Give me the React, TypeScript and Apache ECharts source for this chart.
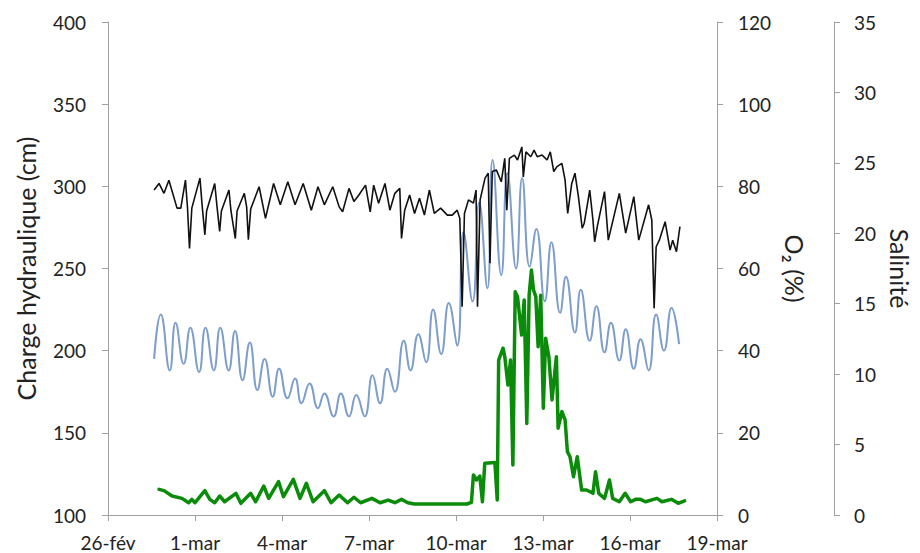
import React, { useEffect, useRef } from 'react';
import * as echarts from 'echarts';

// x values are days since 26-fév
const dateLabels = ['26-fév', '1-mar', '4-mar', '7-mar', '10-mar', '13-mar', '16-mar', '19-mar'];

// Charge hydraulique (cm) – blue, left axis
const chargeDays = [1.59, 1.82, 2.13, 2.33, 2.61, 2.84, 3.14, 3.36, 3.65, 3.87, 4.16, 4.38, 4.64, 4.89, 5.15, 5.40, 5.68, 5.90, 6.19, 6.45, 6.67, 6.95, 7.24, 7.46, 7.78, 8.03, 8.31, 8.56, 8.85, 9.12, 9.38, 9.63, 9.89, 10.20, 10.43, 10.70, 10.97, 11.21, 11.49, 11.75, 12.04, 12.26, 12.57, 12.80, 13.08, 13.26, 13.56, 13.77, 14.07, 14.28, 14.54, 14.77, 15.06, 15.29, 15.59, 15.79, 16.10, 16.30, 16.61, 16.84, 17.12, 17.34, 17.63, 17.85, 18.13, 18.36, 18.64, 18.90, 19.17, 19.43, 19.69];
const chargeValues = [195, 222, 188, 217, 192, 214, 187, 214, 188, 214, 188, 212, 182, 205, 176, 195, 172, 189, 171, 183, 168, 180, 165, 174, 160, 174, 160, 173, 160, 185, 168, 189, 175, 206, 188, 210, 193, 225, 198, 229, 203, 272, 230, 290, 238, 316, 246, 308, 250, 305, 251, 274, 230, 266, 223, 245, 211, 237, 206, 227, 199, 217, 194, 213, 189, 207, 188, 222, 200, 226, 204];

// O2 (%) – black, first right axis
const o2Days = [1.59, 1.76, 1.93, 2.10, 2.38, 2.51, 2.67, 2.74, 2.81, 2.89, 3.17, 3.25, 3.34, 3.40, 3.68, 3.76, 3.85, 3.91, 4.17, 4.24, 4.39, 4.45, 4.70, 4.78, 4.84, 4.92, 5.21, 5.43, 5.71, 5.94, 6.20, 6.45, 6.73, 7.01, 7.24, 7.46, 7.75, 7.97, 8.09, 8.31, 8.48, 8.65, 8.88, 9.04, 9.16, 9.33, 9.55, 9.72, 9.89, 10.06, 10.12, 10.23, 10.40, 10.57, 10.74, 10.91, 11.08, 11.25, 11.47, 11.70, 11.87, 12.04, 12.13, 12.21, 12.29, 12.43, 12.60, 12.69, 12.74, 12.83, 13.00, 13.11, 13.17, 13.25, 13.39, 13.56, 13.68, 13.75, 13.84, 14.01, 14.12, 14.27, 14.32, 14.41, 14.58, 14.69, 14.80, 14.97, 15.14, 15.25, 15.37, 15.48, 15.65, 15.76, 15.85, 15.99, 16.10, 16.22, 16.35, 16.42, 16.61, 16.72, 16.78, 16.87, 17.12, 17.25, 17.63, 17.85, 18.13, 18.30, 18.64, 18.75, 18.83, 18.90, 19.01, 19.21, 19.38, 19.47, 19.60, 19.72];
const o2Values = [79.1, 80.7, 78.3, 81.5, 74.7, 74.7, 81.5, 74.9, 64.9, 74.7, 82.0, 75.0, 68.2, 74.0, 80.7, 75.0, 69.0, 74.0, 79.1, 74.0, 67.3, 74.0, 78.3, 75.0, 67.0, 74.5, 79.9, 72.2, 80.7, 75.5, 81.1, 75.5, 80.7, 74.2, 79.9, 75.5, 79.9, 75.0, 73.8, 79.5, 76.3, 77.9, 80.3, 73.8, 80.3, 75.9, 80.7, 74.2, 78.3, 79.5, 67.3, 74.2, 77.9, 73.4, 77.1, 73.0, 79.1, 73.4, 74.7, 73.0, 73.0, 74.2, 72.2, 50.7, 73.4, 76.7, 75.9, 79.1, 50.7, 76.7, 82.0, 83.2, 61.3, 83.6, 84.0, 81.1, 86.8, 74.2, 86.8, 87.6, 86.4, 89.6, 82.3, 88.4, 87.2, 88.8, 87.2, 87.6, 86.4, 88.4, 83.6, 84.8, 85.6, 81.5, 73.4, 80.7, 83.2, 77.5, 69.8, 71.0, 79.1, 71.8, 66.5, 70.2, 78.7, 66.9, 78.3, 68.6, 77.5, 66.9, 75.5, 71.8, 50.3, 65.3, 66.9, 71.4, 64.5, 66.9, 64.1, 70.2];

// Salinité – green, second right axis
const salDays = [1.76, 1.93, 2.21, 2.55, 2.78, 2.89, 3.00, 3.17, 3.34, 3.51, 3.68, 3.85, 4.02, 4.41, 4.58, 4.92, 5.09, 5.37, 5.54, 5.88, 6.05, 6.39, 6.62, 6.84, 7.07, 7.46, 7.69, 7.97, 8.26, 8.48, 8.71, 9.10, 9.38, 9.66, 9.89, 10.12, 10.34, 10.57, 12.37, 12.53, 12.60, 12.71, 12.82, 12.91, 12.99, 13.34, 13.42, 13.47, 13.62, 13.68, 13.79, 13.88, 13.96, 14.04, 14.12, 14.26, 14.35, 14.44, 14.52, 14.60, 14.67, 14.75, 14.83, 14.92, 15.01, 15.09, 15.20, 15.31, 15.46, 15.52, 15.65, 15.76, 15.84, 15.93, 16.05, 16.18, 16.33, 16.50, 16.72, 16.81, 16.92, 17.12, 17.29, 17.40, 17.63, 17.83, 18.02, 18.19, 18.36, 18.53, 18.93, 19.10, 19.43, 19.66, 19.88];
const salValues = [1.82, 1.73, 1.35, 1.18, 0.87, 1.11, 0.87, 1.30, 1.73, 1.11, 0.87, 1.35, 0.94, 1.54, 0.83, 1.54, 0.94, 2.06, 1.18, 2.37, 1.30, 2.53, 1.18, 2.25, 0.94, 1.73, 0.87, 1.42, 0.87, 1.26, 0.87, 1.18, 0.87, 1.06, 0.87, 1.11, 0.87, 0.78, 0.78, 0.90, 2.84, 2.49, 2.77, 0.94, 3.67, 3.72, 1.07, 11.00, 11.84, 11.24, 9.23, 11.00, 3.55, 15.85, 15.50, 12.78, 15.27, 6.50, 15.60, 17.40, 15.98, 15.50, 11.95, 15.60, 7.58, 12.55, 11.24, 8.17, 11.24, 6.16, 7.34, 6.75, 4.50, 4.14, 2.72, 4.14, 1.78, 1.78, 1.54, 3.07, 1.54, 1.18, 2.49, 1.18, 0.94, 1.54, 0.94, 1.11, 1.11, 0.94, 1.18, 0.94, 1.11, 0.83, 1.00];

const zip = (xs: number[], ys: number[]) => xs.map((x, i) => [x, ys[i]]);

const FONT = 'Lato, "Open Sans", sans-serif';
const TEXT = '#222222';
const AXIS = '#a0a0a0';

const axisCommon = {
  axisLine: { show: true, onZero: false, lineStyle: { color: AXIS, width: 1 } },
  axisTick: { show: true, inside: false, length: 6, lineStyle: { color: AXIS } },
  splitLine: { show: false },
};

export default function App() {
  const ref = useRef<HTMLDivElement>(null);
  useEffect(() => {
    document.documentElement.style.overflow = 'hidden';
    document.body.style.margin = '0';
    document.body.style.overflow = 'hidden';
    const chart = echarts.init(ref.current!, null, { renderer: 'svg', width: 920, height: 553 });
    chart.setOption({
      animation: false,
      backgroundColor: '#ffffff',
      grid: { left: 108, right: 192, top: 22, bottom: 38, containLabel: false },
      xAxis: {
        type: 'value',
        min: 0,
        max: 21,
        interval: 3,
        ...axisCommon,
        axisLabel: {
          formatter: (v: number) => dateLabels[Math.round(v / 3)] ?? '',
          fontSize: 19,
          fontFamily: FONT,
          color: TEXT,
          margin: 18,
          showMinLabel: true,
          showMaxLabel: true,
        },
      },
      yAxis: [
        {
          type: 'value',
          position: 'left',
          min: 100,
          max: 400,
          interval: 50,
          ...axisCommon,
          axisLabel: { fontSize: 19, fontFamily: FONT, color: TEXT, margin: 22 },
          name: 'Charge hydraulique (cm)',
          nameLocation: 'middle',
          nameGap: 70,
          nameTextStyle: { fontSize: 25, fontFamily: FONT, color: TEXT },
        },
        {
          type: 'value',
          position: 'right',
          min: 0,
          max: 120,
          interval: 20,
          ...axisCommon,
          axisLabel: { fontSize: 19, fontFamily: FONT, color: TEXT, margin: 21 },
          name: 'O₂ (%)',
          nameLocation: 'middle',
          nameRotate: -90,
          nameGap: 50,
          nameTextStyle: { fontSize: 25, fontFamily: FONT, color: TEXT },
        },
        {
          type: 'value',
          position: 'right',
          offset: 117,
          min: 0,
          max: 35,
          interval: 5,
          ...axisCommon,
          axisLabel: { fontSize: 19, fontFamily: FONT, color: TEXT, margin: 20 },
          name: 'Salinité',
          nameLocation: 'middle',
          nameRotate: -90,
          nameGap: 50,
          nameTextStyle: { fontSize: 25, fontFamily: FONT, color: TEXT },
        },
      ],
      series: [
        {
          name: 'Charge hydraulique',
          type: 'line',
          yAxisIndex: 0,
          data: zip(chargeDays, chargeValues),
          symbol: 'none',
          smooth: 0.5,
          lineStyle: { color: '#7d9dcb', width: 2 },
          z: 2,
        },
        {
          name: 'O2',
          type: 'line',
          yAxisIndex: 1,
          data: zip(o2Days, o2Values),
          symbol: 'none',
          lineStyle: { color: '#111111', width: 1.6 },
          z: 3,
        },
        {
          name: 'Salinité',
          type: 'line',
          yAxisIndex: 2,
          data: zip(salDays, salValues),
          symbol: 'none',
          lineStyle: { color: '#0a8c0a', width: 3.5, join: 'round', cap: 'round' },
          z: 4,
        },
      ],
    });
    return () => chart.dispose();
  }, []);
  return <div ref={ref} style={{ position: 'absolute', left: 0, top: 0, width: 920, height: 553 }} />;
}
